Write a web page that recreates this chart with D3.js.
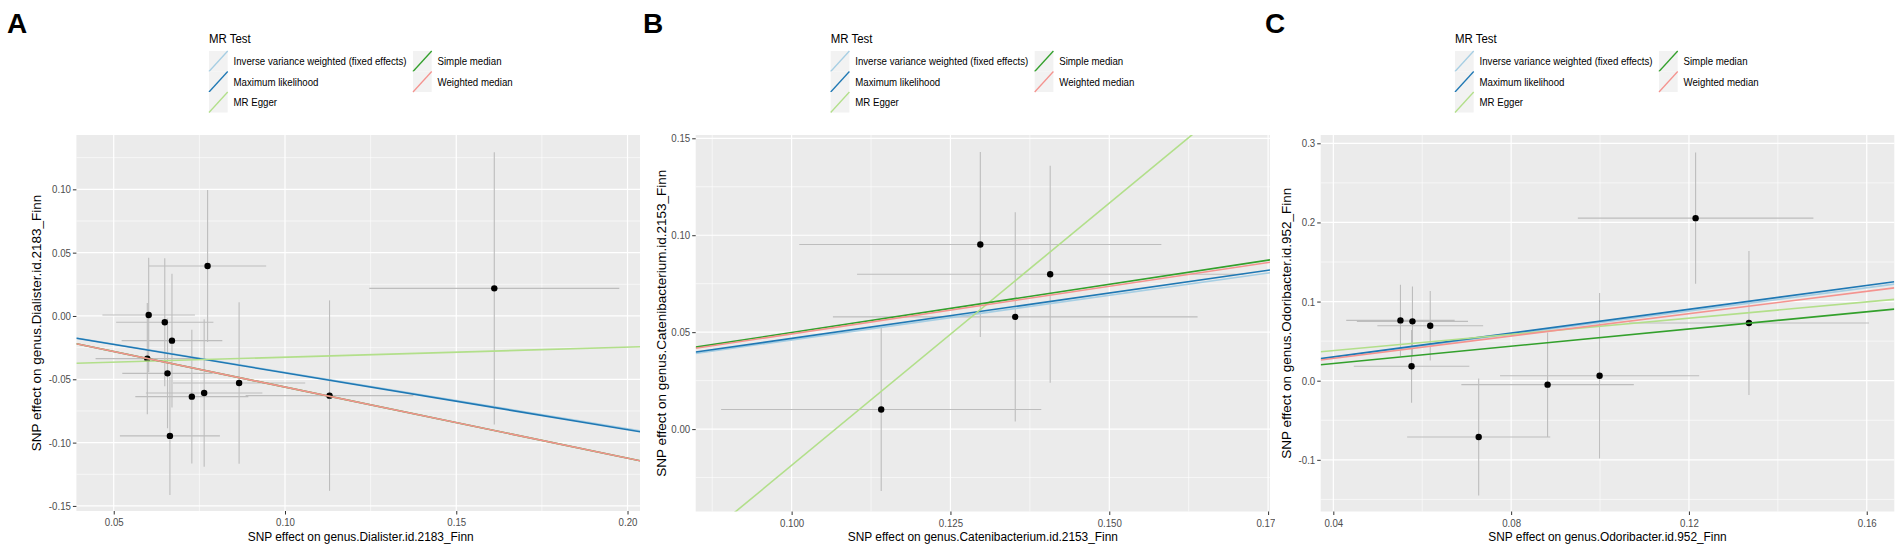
<!DOCTYPE html>
<html>
<head>
<meta charset="utf-8">
<script src="https://cdn.jsdelivr.net/npm/d3@7"></script>
<style>
  body { margin: 0; background: #fff; }
  svg { display: block; font-family: "Liberation Sans", Arial, sans-serif; }
</style>
</head>
<body>
<div id="chart"></div>
<script>
// methods and their colours (legend order)
var methods = ["Inverse variance weighted (fixed effects)", "Maximum likelihood", "MR Egger", "Simple median", "Weighted median"];
var methodColors = ["#a6cee3", "#1f78b4", "#b2df8a", "#33a02c", "#f4938f"];

// panel A: Dialister
var aBetaX = [0.0602, 0.0649, 0.0774, 0.1611, 0.0670, 0.0598, 0.0657, 0.0866, 0.0764, 0.0728, 0.1130, 0.0664];
var aBetaY = [0.0008, -0.0050, 0.0395, 0.0218, -0.0195, -0.0337, -0.0453, -0.0529, -0.0608, -0.0637, -0.0629, -0.0947];
var aSeX   = [0.0135, 0.0142, 0.0171, 0.0365, 0.0147, 0.0151, 0.0132, 0.0193, 0.0170, 0.0165, 0.0245, 0.0146];
var aSeY   = [0.0452, 0.0505, 0.0600, 0.1075, 0.0528, 0.0440, 0.0434, 0.0638, 0.0582, 0.0528, 0.0752, 0.0466];
var aSlopes = [-0.445, -0.449, 0.0795, -0.5615, -0.5615];
var aIntercepts = [0, 0, -0.0405, 0, 0];
var aXTicks = [0.05, 0.10, 0.15, 0.20];
var aXLabels = ["0.05", "0.10", "0.15", "0.20"];
var aYTicks = [-0.15, -0.10, -0.05, 0.00, 0.05, 0.10];
var aYLabels = ["-0.15", "-0.10", "-0.05", "0.00", "0.05", "0.10"];

// panel B: Catenibacterium
var bBetaX = [0.1297, 0.1407, 0.1352, 0.1141];
var bBetaY = [0.0952, 0.0799, 0.0579, 0.0101];
var bSeX   = [0.0285, 0.0304, 0.0287, 0.0252];
var bSeY   = [0.0477, 0.0560, 0.0540, 0.0420];
var bSlopes = [0.460, 0.468, 2.705, 0.498, 0.491];
var bIntercepts = [0, 0, -0.2892, 0, 0];
var bXTicks = [0.100, 0.125, 0.150, 0.175];
var bXLabels = ["0.100", "0.125", "0.150", "0.175"];
var bYTicks = [0.00, 0.05, 0.10, 0.15];
var bYLabels = ["0.00", "0.05", "0.10", "0.15"];

// panel C: Odoribacter
var cBetaX = [0.0551, 0.0578, 0.0618, 0.0576, 0.0727, 0.0882, 0.0999, 0.1215, 0.1335];
var cBetaY = [0.0762, 0.0750, 0.0695, 0.0182, -0.0711, -0.0050, 0.0063, 0.2054, 0.0729];
var cSeX   = [0.0122, 0.0125, 0.0119, 0.0130, 0.0161, 0.0194, 0.0224, 0.0265, 0.0270];
var cSeY   = [0.0450, 0.0440, 0.0440, 0.0460, 0.0740, 0.0660, 0.1045, 0.0830, 0.0910];
var cSlopes = [0.734, 0.752, 0.513, 0.5445, 0.706];
var cIntercepts = [0, 0, 0.0175, 0, 0];
var cXTicks = [0.04, 0.08, 0.12, 0.16];
var cXLabels = ["0.04", "0.08", "0.12", "0.16"];
var cYTicks = [-0.1, 0.0, 0.1, 0.2, 0.3];
var cYLabels = ["-0.1", "0.0", "0.1", "0.2", "0.3"];

var W = 1901, H = 553;
var SX = 0.88;   // the figure is squeezed horizontally
var legendCols = [[0, 1, 2], [3, 4]];

function pack(bx, by, sx, sy) {
    return bx.map(function(d, i) { return {x: d, y: by[i], sx: sx[i], sy: sy[i]}; });
}

var panels = [
    {letter: "A", letterX: 7, clip: [0, 640], left: 76.4, right: 645, top: 135, bottom: 511,
     xDom: [0.0391, 0.2051], yDom: [-0.154, 0.1429], legendX: 209, yTitleX: 40.5,
     xTitle: "SNP effect on genus.Dialister.id.2183_Finn", yTitle: "SNP effect on genus.Dialister.id.2183_Finn",
     pts: pack(aBetaX, aBetaY, aSeX, aSeY), slopes: aSlopes, ints: aIntercepts,
     xt: aXTicks, xl: aXLabels, yt: aYTicks, yl: aYLabels},
    {letter: "B", letterX: 643, clip: [640, 1275], left: 695.7, right: 1270, top: 135, bottom: 511.5,
     xDom: [0.0849, 0.1753], yDom: [-0.0425, 0.1517], legendX: 830.7, yTitleX: 666,
     xTitle: "SNP effect on genus.Catenibacterium.id.2153_Finn", yTitle: "SNP effect on genus.Catenibacterium.id.2153_Finn",
     pts: pack(bBetaX, bBetaY, bSeX, bSeY), slopes: bSlopes, ints: bIntercepts,
     xt: bXTicks, xl: bXLabels, yt: bYTicks, yl: bYLabels},
    {letter: "C", letterX: 1265, clip: [1275, 1901], left: 1320.7, right: 1894.3, top: 135, bottom: 511.5,
     xDom: [0.03716, 0.1662], yDom: [-0.1653, 0.3105], legendX: 1455, yTitleX: 1291,
     xTitle: "SNP effect on genus.Odoribacter.id.952_Finn", yTitle: "SNP effect on genus.Odoribacter.id.952_Finn",
     pts: pack(cBetaX, cBetaY, cSeX, cSeY), slopes: cSlopes, ints: cIntercepts,
     xt: cXTicks, xl: cXLabels, yt: cYTicks, yl: cYLabels}
];

var svg = d3.select("#chart").append("svg")
    .attr("width", W).attr("height", H);

function minors(ticks, dom) {
    var step = ticks[1] - ticks[0];
    var out = [];
    for (var i = -1; i < ticks.length; i++) {
        var m = ticks[0] + (i + 0.5) * step;
        if (m > dom[0] && m < dom[1]) out.push(m);
    }
    return out;
}

function sqText(g, x, y, str, size, anchor) {
    return g.append("text")
        .attr("transform", "translate(" + x + "," + y + ") scale(" + SX + ",1)")
        .attr("font-size", size)
        .attr("text-anchor", anchor || "start")
        .text(str);
}

panels.forEach(function(p, pi) {
    var defs = svg.append("defs");
    defs.append("clipPath").attr("id", "canvas" + pi)
        .append("rect").attr("x", p.clip[0]).attr("y", 0)
        .attr("width", p.clip[1] - p.clip[0]).attr("height", H);
    defs.append("clipPath").attr("id", "plot" + pi)
        .append("rect").attr("x", p.left).attr("y", p.top)
        .attr("width", p.right - p.left).attr("height", p.bottom - p.top);

    var g = svg.append("g").attr("clip-path", "url(#canvas" + pi + ")");

    var x = d3.scaleLinear().domain(p.xDom).range([p.left, p.right]);
    var y = d3.scaleLinear().domain(p.yDom).range([p.bottom, p.top]);

    // panel background and grid
    g.append("rect").attr("x", p.left).attr("y", p.top)
        .attr("width", p.right - p.left).attr("height", p.bottom - p.top)
        .attr("fill", "#ebebeb");

    var grid = g.append("g");
    grid.selectAll("line.mx").data(minors(p.xt, p.xDom)).enter().append("line")
        .attr("x1", d => x(d)).attr("x2", d => x(d)).attr("y1", p.top).attr("y2", p.bottom)
        .attr("stroke", "#fff").attr("stroke-width", 0.6);
    grid.selectAll("line.my").data(minors(p.yt, p.yDom)).enter().append("line")
        .attr("y1", d => y(d)).attr("y2", d => y(d)).attr("x1", p.left).attr("x2", p.right)
        .attr("stroke", "#fff").attr("stroke-width", 0.6);
    grid.selectAll("line.Mx").data(p.xt).enter().append("line")
        .attr("x1", d => x(d)).attr("x2", d => x(d)).attr("y1", p.top).attr("y2", p.bottom)
        .attr("stroke", "#fff").attr("stroke-width", 1.2);
    grid.selectAll("line.My").data(p.yt).enter().append("line")
        .attr("y1", d => y(d)).attr("y2", d => y(d)).attr("x1", p.left).attr("x2", p.right)
        .attr("stroke", "#fff").attr("stroke-width", 1.2);

    // error bars, points, fitted lines
    var plot = g.append("g").attr("clip-path", "url(#plot" + pi + ")");
    plot.selectAll("line.ev").data(p.pts).enter().append("line")
        .attr("x1", d => x(d.x)).attr("x2", d => x(d.x))
        .attr("y1", d => y(d.y - d.sy)).attr("y2", d => y(d.y + d.sy))
        .attr("stroke", "#bdbdbd").attr("stroke-width", 1.1);
    plot.selectAll("line.eh").data(p.pts).enter().append("line")
        .attr("x1", d => x(d.x - d.sx)).attr("x2", d => x(d.x + d.sx))
        .attr("y1", d => y(d.y)).attr("y2", d => y(d.y))
        .attr("stroke", "#bdbdbd").attr("stroke-width", 1.1);
    plot.selectAll("circle").data(p.pts).enter().append("circle")
        .attr("cx", d => x(d.x)).attr("cy", d => y(d.y)).attr("r", 3.2)
        .attr("fill", "#000");
    plot.selectAll("line.fit").data(p.slopes).enter().append("line")
        .attr("x1", p.left).attr("x2", p.right)
        .attr("y1", (d, i) => y(p.ints[i] + d * p.xDom[0]))
        .attr("y2", (d, i) => y(p.ints[i] + d * p.xDom[1]))
        .attr("stroke", (d, i) => methodColors[i]).attr("stroke-width", 1.6);

    // axes
    var xAxis = g.append("g").attr("transform", "translate(0," + p.bottom + ")")
        .call(d3.axisBottom(x).tickValues(p.xt).tickFormat((d, i) => p.xl[i]).tickSize(3.5).tickPadding(2));
    var yAxis = g.append("g").attr("transform", "translate(" + p.left + ",0)")
        .call(d3.axisLeft(y).tickValues(p.yt).tickFormat((d, i) => p.yl[i]).tickSize(3.5).tickPadding(2));
    [xAxis, yAxis].forEach(function(a) {
        a.select(".domain").remove();
        a.selectAll(".tick line").attr("stroke", "#333").attr("stroke-width", 1);
        a.selectAll(".tick text").attr("fill", "#4d4d4d").attr("font-size", 11)
            .attr("font-family", "Liberation Sans, Arial, sans-serif");
    });
    xAxis.selectAll(".tick text").attr("y", 7.4).attr("dy", "0.72em")
        .attr("transform", "scale(" + SX + ",1)");
    yAxis.selectAll(".tick text").attr("x", -5.5 / SX)
        .attr("transform", "scale(" + SX + ",1)");

    // axis titles
    sqText(g, (p.left + p.right) / 2, 541.3, p.xTitle, 13.5, "middle");
    g.append("text")
        .attr("transform", "translate(" + p.yTitleX + "," + ((p.top + p.bottom) / 2) + ") scale(" + SX + ",1) rotate(-90)")
        .attr("font-size", 13.5).attr("text-anchor", "middle")
        .text(p.yTitle);

    // legend
    var lg = g.append("g");
    sqText(lg, p.legendX, 43, "MR Test", 13);
    var keyW = 18.7, keyH = 20.5, keyTop = 51;
    legendCols.forEach(function(col, ci) {
        var kx = p.legendX + ci * 204;
        col.forEach(function(mi, ri) {
            var ky = keyTop + ri * keyH;
            lg.append("rect").attr("x", kx).attr("y", ky).attr("width", keyW).attr("height", keyH)
                .attr("fill", "#f2f2f2");
            lg.append("line").attr("x1", kx).attr("y1", ky + keyH).attr("x2", kx + keyW).attr("y2", ky)
                .attr("stroke", methodColors[mi]).attr("stroke-width", 1.3);
            sqText(lg, kx + 24.5, ky + keyH / 2 + 4, methods[mi], 11);
        });
    });
});

// panel letters
panels.forEach(function(p) {
    svg.append("text").attr("x", p.letterX).attr("y", 33)
        .attr("font-size", 28).attr("font-weight", "bold").text(p.letter);
});
</script>
</body>
</html>
